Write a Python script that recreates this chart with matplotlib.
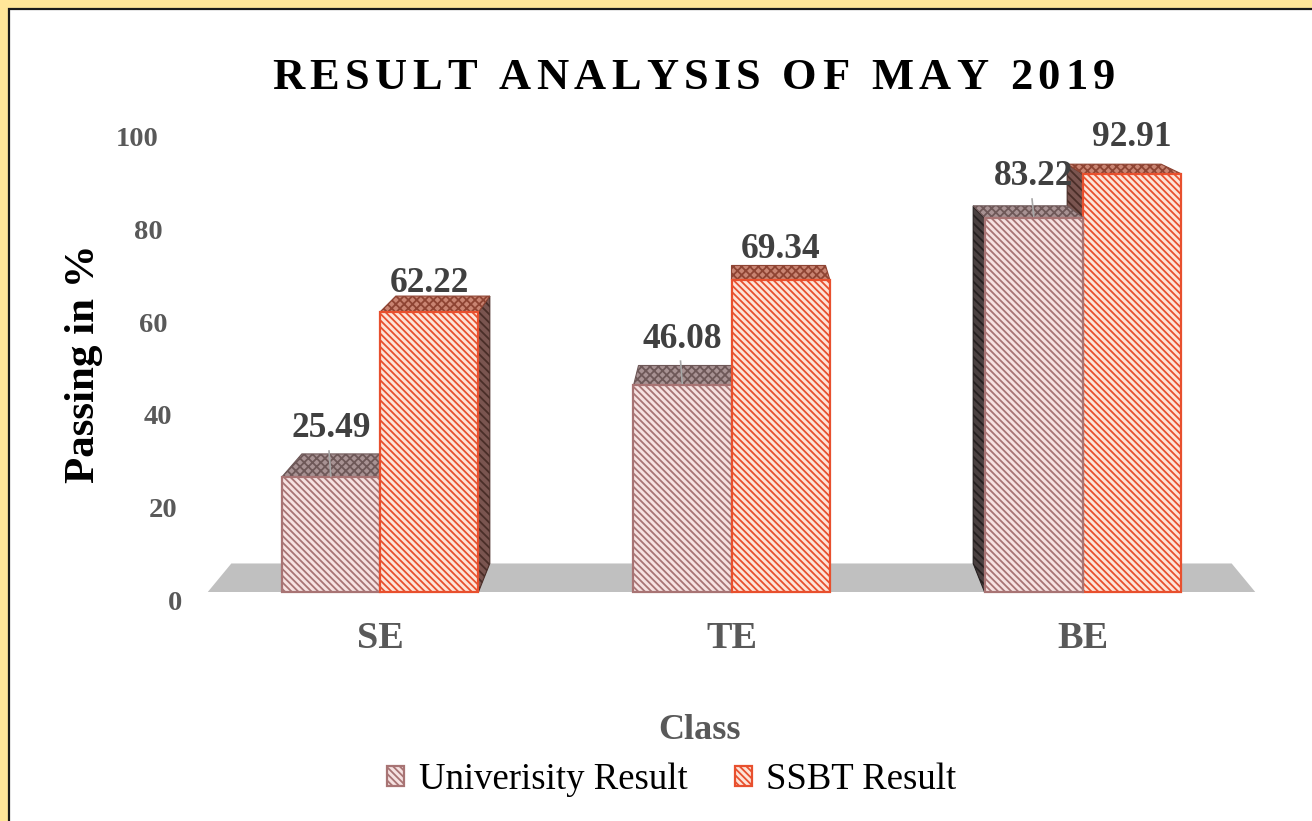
import numpy as np
import matplotlib
matplotlib.use('Agg')
import matplotlib.pyplot as plt
from matplotlib.patches import Polygon, Rectangle
from matplotlib.font_manager import FontProperties

plt.rcParams['font.family'] = 'Liberation Serif'
plt.rcParams['hatch.linewidth'] = 1.3

# data
categories = ['SE', 'TE', 'BE']
univ = [25.49, 46.08, 83.22]
ssbt = [62.22, 69.34, 92.91]
series_names = ['Univerisity Result', 'SSBT Result']
yticks = [0, 20, 40, 60, 80, 100]

W, H = 1312, 821
fig = plt.figure(figsize=(W / 100, H / 100), dpi=100)
fig.patch.set_facecolor('#FFE699')
# white panel with black border
fig.add_artist(Rectangle((9 / W, -0.2), 1.2, (H - 9) / H + 0.2, transform=fig.transFigure,
                         facecolor='white', edgecolor='#1a1a1a', lw=1.6, zorder=-10))

ax = fig.add_axes([204.25 / W, (H - 592) / H, 1054.5 / W, 450 / H])
ax.set_xlim(-0.5, 2.5)
ax.set_ylim(0, 100)
ax.patch.set_alpha(0)
for s in ax.spines.values():
    s.set_visible(False)

# perspective: back face = front face scaled towards a vanishing point
VPX, VPY, S = 1.0, 140.9, 0.955
def back(x, y):
    return VPX + S * (x - VPX), VPY + S * (y - VPY)

# floor
fl, fr = -0.49, 2.49
ax.add_patch(Polygon([(fl, 0), (fr, 0), back(fr, 0), back(fl, 0)], closed=True,
                     facecolor='#C0C0C0', edgecolor='none', zorder=0.5, clip_on=False))

w = 0.28
x = np.arange(len(categories))
styles = [
    dict(fill='#F6E2E1', edge='#A87474', top='#A89293', tophatch='#6E5858',
         side='#4A4040', sidehatch='#262020'),
    dict(fill='#FDE4D8', edge='#E8502E', top='#C98472', tophatch='#8E4433',
         side='#7A5550', sidehatch='#4A2E28'),
]

containers = []
for j, vals in enumerate([univ, ssbt]):
    st = styles[j]
    xs = x + (j - 0.5) * w
    bc = ax.bar(xs, vals, w, facecolor=st['fill'], edgecolor=st['edge'], lw=1.6,
                hatch='\\\\\\\\\\', label=series_names[j], clip_on=False)
    containers.append(bc)
    for i, p in enumerate(bc.patches):
        h = vals[i]
        xl, xr = xs[i] - w / 2, xs[i] + w / 2
        dist = abs(xs[i] - VPX)
        z = 10 + (3 - dist) * 10
        p.set_zorder(z + 2)
        ax.add_patch(Polygon([(xl, h), (xr, h), back(xr, h), back(xl, h)], closed=True,
                             facecolor=st['top'], edgecolor=st['tophatch'], lw=0.8,
                             hatch='xxxx', zorder=z + 1, clip_on=False))
        if xr < VPX - 1e-9:
            ex = xr
        elif xl > VPX + 1e-9:
            ex = xl
        else:
            ex = None
        if ex is not None:
            ax.add_patch(Polygon([(ex, 0), (ex, h), back(ex, h), back(ex, 0)], closed=True,
                                 facecolor=st['side'], edgecolor=st['sidehatch'], lw=0.8,
                                 hatch='\\\\\\\\', zorder=z, clip_on=False))

# data labels
for i in range(len(categories)):
    xu = x[i] - w / 2
    ly = univ[i] + 11.5 - 0.03 * univ[i]
    ax.text(xu, ly, f'{univ[i]:.2f}', ha='center', va='center', fontsize=25.5,
            fontweight='bold', color='#404040', zorder=200, clip_on=False)
    ax.plot([xu - 0.005, xu], [ly - 4.9, univ[i] + 0.3], color='#A6A6A6', lw=1.2,
            zorder=150, clip_on=False)
    xs_ = x[i] + w / 2
    ly2 = 1.06 * ssbt[i] + 2.6
    ax.text(xs_, ly2, f'{ssbt[i]:.2f}', ha='center', va='center', fontsize=25.5,
            fontweight='bold', color='#404040', zorder=200, clip_on=False)

# x tick labels
ax.set_xticks(x)
ax.set_xticklabels(categories, fontsize=27.5, fontweight='bold', color='#595959')
ax.tick_params(axis='x', length=0, pad=21)
ax.set_yticks([])

# y tick labels (placed along the slanted wall)
for v in yticks:
    xr_px = 182 - 0.24 * v
    ax.text((xr_px - 380) / 351.5, 1.03 * v - 2.5, str(v), ha='right', va='center',
            fontsize=20.5, fontweight='bold', color='#595959', clip_on=False)

fig.text(84 / W, 1 - 364 / H, 'Passing in %', rotation=90, ha='center', va='center',
         fontsize=31, fontweight='bold', color='black')
fig.text(700 / W, 1 - 730 / H, 'Class', ha='center', va='center', fontsize=26,
         fontweight='bold', color='#595959')

# title with letter spacing
title = 'RESULT ANALYSIS OF MAY 2019'
prop = FontProperties(family='Liberation Serif', weight='bold', size=32)
r = fig.canvas.get_renderer()
widths = [r.get_text_width_height_descent(c, prop, ismath=False)[0] for c in title]
gap = (843 - sum(widths)) / (len(title) - 1)
xp = 272
for c, cw in zip(title, widths):
    fig.text(xp / W, 1 - 89 / H, c, fontproperties=prop, ha='left', va='baseline', color='black')
    xp += cw + gap

fig.legend(handles=containers, labels=series_names, loc='center',
           bbox_to_anchor=(672 / W, 1 - 780 / H), ncol=2, frameon=False,
           prop=FontProperties(family='Liberation Serif', size=26.5),
           handlelength=0.45, handleheight=0.45, handletextpad=0.4, columnspacing=1.3)

fig.savefig('out.png', dpi=100)
